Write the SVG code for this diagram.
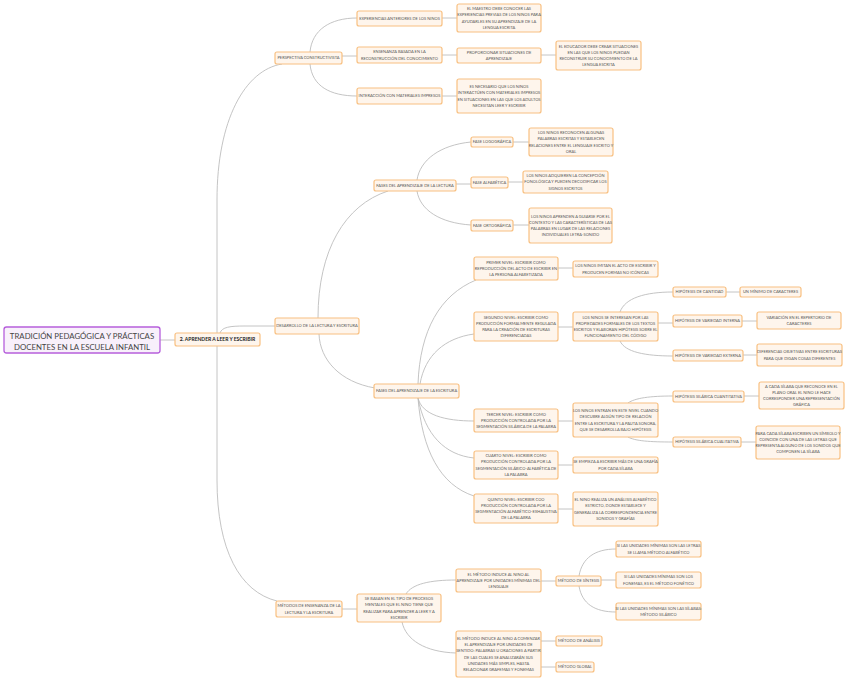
<svg xmlns="http://www.w3.org/2000/svg" width="848" height="681" viewBox="0 0 848 681">
<style>
.bx{fill:#fef5ec;stroke:#f8c081;stroke-width:1.2}
.rt{fill:#f8f0fb;stroke:#b65fdc;stroke-width:1.3}
.t{font-family:Lato,"Open Sans","Liberation Sans",sans-serif;font-size:4px;fill:#555;text-anchor:middle}
.rtt{font-family:Lato,"Open Sans","Liberation Sans",sans-serif;font-size:7.8px;fill:#444;text-anchor:middle}
.l1t{font-family:Lato,"Open Sans","Liberation Sans",sans-serif;font-size:5px;font-weight:bold;fill:#222;text-anchor:middle}
#connectors path{fill:none;stroke:#bdbdbd;stroke-width:0.9}
</style>
<rect width="848" height="681" fill="#ffffff"/>
<g id="connectors">
<path d="M160,340 H175"/>
<path d="M217,333 V200 C217,120 245,70 282,64"/>
<path d="M220,333 C222,327 230,326 245,326 L275,326"/>
<path d="M217,346 V480 C217,550 240,592 277,601"/>
<path d="M342,56 H357"/>
<path d="M310,52 C312,30 330,18 357,18"/>
<path d="M310,64 C312,86 330,96 357,96"/>
<path d="M442,18 H457"/>
<path d="M442,55 H457"/>
<path d="M541,55 H556"/>
<path d="M442,96 H457"/>
<path d="M318,318 C318,250 345,205 388,191"/>
<path d="M319,334 C320,360 340,382 375,388"/>
<path d="M456,184 H471"/>
<path d="M417,180 C420,160 440,145 471,142"/>
<path d="M417,191 C420,210 440,223 471,225"/>
<path d="M513,142 H529"/>
<path d="M508,182 H523"/>
<path d="M513,225 H529"/>
<path d="M418,384 C420,330 440,295 476,280"/>
<path d="M420,384 C425,355 445,338 474,334"/>
<path d="M418,398 C422,415 445,421 474,421"/>
<path d="M418,398 C425,435 445,455 474,458"/>
<path d="M418,398 C422,450 440,485 474,496"/>
<path d="M558,268 H573"/>
<path d="M558,327 H573"/>
<path d="M658,323 H673"/>
<path d="M620,312 C625,298 645,292 673,292"/>
<path d="M620,341 C625,352 645,356 673,356"/>
<path d="M726,292 H740"/>
<path d="M742,321 H757"/>
<path d="M743,355 H757"/>
<path d="M558,421 H573"/>
<path d="M628,403 C635,398 650,396 673,396"/>
<path d="M628,437 C635,441 650,442 673,442"/>
<path d="M744,396 H759"/>
<path d="M741,442 H756"/>
<path d="M558,465 H573"/>
<path d="M558,509 H573"/>
<path d="M342,609 H357"/>
<path d="M406,594 C412,584 430,580 456,580"/>
<path d="M402,622 C406,640 425,652 456,653"/>
<path d="M541,581 H556"/>
<path d="M579,576 C582,558 595,549 616,549"/>
<path d="M579,586 C582,604 595,612 616,612"/>
<path d="M601,580 H616"/>
<path d="M541,641 H556"/>
<path d="M541,667 H556"/>
</g>
<g id="root"><rect class="rt" x="4" y="327" width="156" height="26" rx="2.5"/><text class="rtt"><tspan x="82" y="338.5">TRADICIÓN PEDAGÓGICA Y PRÁCTICAS</tspan><tspan x="82" y="349.5">DOCENTES EN LA ESCUELA INFANTIL</tspan></text></g>
<g id="n_aprender"><rect class="bx" x="175" y="333" width="85" height="13" rx="2"/><text class="l1t" x="217.5" y="341.3">2. APRENDER A LEER Y ESCRIBIR</text></g>
<g id="n_persp"><rect class="bx" x="275" y="52" width="67" height="12" rx="2"/><text class="t" x="308.5" y="59.45">PERSPECTIVA CONSTRUCTIVISTA</text></g>
<g id="n_exp"><rect class="bx" x="357" y="11" width="85" height="15" rx="2"/><text class="t" x="399.5" y="19.95">EXPERIENCIAS ANTERIORES DE LOS NIÑOS</text></g>
<g id="n_exp_d"><rect class="bx" x="457" y="4" width="84" height="28" rx="2"/><text class="t"><tspan x="499" y="10.15">EL MAESTRO DEBE CONOCER LAS</tspan><tspan x="499" y="16.35">EXPERIENCIAS PREVIAS DE LOS NIÑOS PARA</tspan><tspan x="499" y="22.55">AYUDARLES EN SU APRENDIZAJE DE LA</tspan><tspan x="499" y="28.75">LENGUA ESCRITA</tspan></text></g>
<g id="n_ens"><rect class="bx" x="357" y="47" width="85" height="16" rx="2"/><text class="t"><tspan x="399.5" y="53.35">ENSEÑANZA BASADA EN LA</tspan><tspan x="399.5" y="59.55">RECONSTRUCCIÓN DEL CONOCIMIENTO</tspan></text></g>
<g id="n_prop"><rect class="bx" x="457" y="48" width="84" height="15" rx="2"/><text class="t"><tspan x="499" y="53.85">PROPORCIONAR SITUACIONES DE</tspan><tspan x="499" y="60.05">APRENDIZAJE</tspan></text></g>
<g id="n_educ"><rect class="bx" x="556" y="41" width="85" height="29" rx="2"/><text class="t"><tspan x="598.5" y="47.65">EL EDUCADOR DEBE CREAR SITUACIONES</tspan><tspan x="598.5" y="53.85">EN LAS QUE LOS NIÑOS PUEDAN</tspan><tspan x="598.5" y="60.05">RECONSTRUIR SU CONOCIMIENTO DE LA</tspan><tspan x="598.5" y="66.25">LENGUA ESCRITA</tspan></text></g>
<g id="n_inter"><rect class="bx" x="357" y="88" width="85" height="16" rx="2"/><text class="t" x="399.5" y="97.45">INTERACCIÓN CON MATERIALES IMPRESOS</text></g>
<g id="n_inter_d"><rect class="bx" x="457" y="79" width="84" height="34" rx="2"/><text class="t"><tspan x="499" y="88.15">ES NECESARIO QUE LOS NIÑOS</tspan><tspan x="499" y="94.35">INTERACTÚEN CON MATERIALES IMPRESOS</tspan><tspan x="499" y="100.55">EN SITUACIONES EN LAS QUE LOS ADULTOS</tspan><tspan x="499" y="106.75">NECESITAN LEER Y ESCRIBIR</tspan></text></g>
<g id="n_desa"><rect class="bx" x="275" y="318" width="84" height="16" rx="2"/><text class="t" x="317" y="327.45">DESARROLLO DE LA LECTURA Y ESCRITURA</text></g>
<g id="n_flect"><rect class="bx" x="374" y="180" width="82" height="11" rx="2"/><text class="t" x="415" y="186.95">FASES DEL APRENDIZAJE DE LA LECTURA</text></g>
<g id="n_logo"><rect class="bx" x="471" y="137" width="42" height="10" rx="2"/><text class="t" x="492" y="143.45">FASE LOGOGRÁFICA</text></g>
<g id="n_logo_d"><rect class="bx" x="529" y="128" width="84" height="28" rx="2"/><text class="t"><tspan x="571" y="134.15">LOS NIÑOS RECONOCEN ALGUNAS</tspan><tspan x="571" y="140.35">PALABRAS ESCRITAS Y ESTABLECEN</tspan><tspan x="571" y="146.55">RELACIONES ENTRE EL LENGUAJE ESCRITO Y</tspan><tspan x="571" y="152.75">ORAL</tspan></text></g>
<g id="n_alfa"><rect class="bx" x="471" y="177" width="37" height="11" rx="2"/><text class="t" x="489.5" y="183.95">FASE ALFABÉTICA</text></g>
<g id="n_alfa_d"><rect class="bx" x="523" y="171" width="85" height="22" rx="2"/><text class="t"><tspan x="565.5" y="177.25">LOS NIÑOS ADQUIEREN LA CONCEPCIÓN</tspan><tspan x="565.5" y="183.45">FONOLÓGICA Y PUEDEN DECODIFICAR LOS</tspan><tspan x="565.5" y="189.65">SIGNOS ESCRITOS</tspan></text></g>
<g id="n_orto"><rect class="bx" x="471" y="220" width="42" height="11" rx="2"/><text class="t" x="492" y="226.95">FASE ORTOGRÁFICA</text></g>
<g id="n_orto_d"><rect class="bx" x="529" y="208" width="83" height="35" rx="2"/><text class="t"><tspan x="570.5" y="217.65">LOS NIÑOS APRENDEN A GUIARSE POR EL</tspan><tspan x="570.5" y="223.85">CONTEXTO Y LAS CARACTERÍSTICAS DE LAS</tspan><tspan x="570.5" y="230.05">PALABRAS EN LUGAR DE LAS RELACIONES</tspan><tspan x="570.5" y="236.25">INDIVIDUALES LETRA-SONIDO</tspan></text></g>
<g id="n_fesc"><rect class="bx" x="374" y="384" width="85" height="14" rx="2"/><text class="t" x="416.5" y="392.45">FASES DEL APRENDIZAJE DE LA ESCRITURA</text></g>
<g id="n_n1"><rect class="bx" x="474" y="257" width="84" height="23" rx="2"/><text class="t"><tspan x="516" y="263.75">PRIMER NIVEL: ESCRIBIR COMO</tspan><tspan x="516" y="269.95">REPRODUCCIÓN DEL ACTO DE ESCRIBIR EN</tspan><tspan x="516" y="276.15">LA PERSONA ALFABETIZADA</tspan></text></g>
<g id="n_n1_d"><rect class="bx" x="573" y="261" width="85" height="16" rx="2"/><text class="t"><tspan x="615.5" y="267.35">LOS NIÑOS IMITAN EL ACTO DE ESCRIBIR Y</tspan><tspan x="615.5" y="273.55">PRODUCEN FORMAS NO ICÓNICAS</tspan></text></g>
<g id="n_n2"><rect class="bx" x="474" y="312" width="84" height="29" rx="2"/><text class="t"><tspan x="516" y="318.65">SEGUNDO NIVEL: ESCRIBIR COMO</tspan><tspan x="516" y="324.85">PRODUCCIÓN FORMALMENTE REGULADA</tspan><tspan x="516" y="331.05">PARA LA CREACIÓN DE ESCRITURAS</tspan><tspan x="516" y="337.25">DIFERENCIADAS</tspan></text></g>
<g id="n_n2_d"><rect class="bx" x="573" y="312" width="85" height="29" rx="2"/><text class="t"><tspan x="615.5" y="318.65">LOS NIÑOS SE INTERESAN POR LAS</tspan><tspan x="615.5" y="324.85">PROPIEDADES FORMALES DE LOS TEXTOS</tspan><tspan x="615.5" y="331.05">ESCRITOS Y ELABORAN HIPÓTESIS SOBRE EL</tspan><tspan x="615.5" y="337.25">FUNCIONAMIENTO DEL CÓDIGO</tspan></text></g>
<g id="n_hcant"><rect class="bx" x="673" y="287" width="53" height="10" rx="2"/><text class="t" x="699.5" y="293.45">HIPÓTESIS DE CANTIDAD</text></g>
<g id="n_hcant_d"><rect class="bx" x="740" y="287" width="61" height="10" rx="2"/><text class="t" x="770.5" y="293.45">UN MÍNIMO DE CARACTERES</text></g>
<g id="n_hint"><rect class="bx" x="673" y="315" width="69" height="12" rx="2"/><text class="t" x="707.5" y="322.45">HIPÓTESIS DE VARIEDAD INTERNA</text></g>
<g id="n_hint_d"><rect class="bx" x="757" y="312" width="84" height="17" rx="2"/><text class="t"><tspan x="799" y="318.85">VARIACIÓN EN EL REPERTORIO DE</tspan><tspan x="799" y="325.05">CARACTERES</tspan></text></g>
<g id="n_hext"><rect class="bx" x="673" y="350" width="70" height="11" rx="2"/><text class="t" x="708" y="356.95">HIPÓTESIS DE VARIEDAD EXTERNA</text></g>
<g id="n_hext_d"><rect class="bx" x="757" y="344" width="85" height="22" rx="2"/><text class="t"><tspan x="799.5" y="353.35">DIFERENCIAS OBJETIVAS ENTRE ESCRITURAS</tspan><tspan x="799.5" y="359.55">PARA QUE DIGAN COSAS DIFERENTES</tspan></text></g>
<g id="n_n3"><rect class="bx" x="474" y="409" width="84" height="23" rx="2"/><text class="t"><tspan x="516" y="415.75">TERCER NIVEL: ESCRIBIR COMO</tspan><tspan x="516" y="421.95">PRODUCCIÓN CONTROLADA POR LA</tspan><tspan x="516" y="428.15">SEGMENTACIÓN SILÁBICA DE LA PALABRA</tspan></text></g>
<g id="n_n3_d"><rect class="bx" x="573" y="403" width="85" height="34" rx="2"/><text class="t"><tspan x="615.5" y="412.15">LOS NIÑOS ENTRAN EN ESTE NIVEL CUANDO</tspan><tspan x="615.5" y="418.35">DESCUBRE ALGÚN TIPO DE RELACIÓN</tspan><tspan x="615.5" y="424.55">ENTRE LA ESCRITURA Y LA PAUTA SONORA,</tspan><tspan x="615.5" y="430.75">QUE SE DESARROLLA BAJO HIPÓTESIS</tspan></text></g>
<g id="n_hscuan"><rect class="bx" x="673" y="391" width="71" height="11" rx="2"/><text class="t" x="708.5" y="397.95">HIPÓTESIS SILÁBICA CUANTITATIVA</text></g>
<g id="n_hscuan_d"><rect class="bx" x="759" y="382" width="85" height="27" rx="2"/><text class="t"><tspan x="801.5" y="387.65">A CADA SÍLABA QUE RECONOCE EN EL</tspan><tspan x="801.5" y="393.85">PLANO ORAL EL NIÑO LE HACE</tspan><tspan x="801.5" y="400.05">CORRESPONDER UNA REPRESENTACIÓN</tspan><tspan x="801.5" y="406.25">GRÁFICA</tspan></text></g>
<g id="n_hscual"><rect class="bx" x="673" y="437" width="68" height="10" rx="2"/><text class="t" x="707" y="443.45">HIPÓTESIS SILÁBICA CUALITATIVA</text></g>
<g id="n_hscual_d"><rect class="bx" x="756" y="426" width="84" height="33" rx="2"/><text class="t"><tspan x="798" y="434.65">PARA CADA SÍLABA ESCRIBEN UN SÍMBOLO Y</tspan><tspan x="798" y="440.85">COINCIDE CON UNA DE LAS LETRAS QUE</tspan><tspan x="798" y="447.05">REPRESENTA ALGUNO DE LOS SONIDOS QUE</tspan><tspan x="798" y="453.25">COMPONEN LA SÍLABA</tspan></text></g>
<g id="n_n4"><rect class="bx" x="474" y="451" width="84" height="28" rx="2"/><text class="t"><tspan x="516" y="457.15">CUARTO NIVEL: ESCRIBIR COMO</tspan><tspan x="516" y="463.35">PRODUCCIÓN CONTROLADA POR LA</tspan><tspan x="516" y="469.55">SEGMENTACIÓN SILÁBICO-ALFABÉTICA DE</tspan><tspan x="516" y="475.75">LA PALABRA</tspan></text></g>
<g id="n_n4_d"><rect class="bx" x="573" y="457" width="85" height="16" rx="2"/><text class="t"><tspan x="615.5" y="463.35">SE EMPIEZA A ESCRIBIR MÁS DE UNA GRAFÍA</tspan><tspan x="615.5" y="469.55">POR CADA SÍLABA</tspan></text></g>
<g id="n_n5"><rect class="bx" x="474" y="494" width="84" height="29" rx="2"/><text class="t"><tspan x="516" y="500.65">QUINTO NIVEL: ESCRIBIR COO</tspan><tspan x="516" y="506.85">PRODUCCIÓN CONTROLADA POR LA</tspan><tspan x="516" y="513.05">SEGMENTACIÓN ALFABÉTICO-EXHAUSTIVA</tspan><tspan x="516" y="519.25">DE LA PALABRA</tspan></text></g>
<g id="n_n5_d"><rect class="bx" x="573" y="492" width="85" height="34" rx="2"/><text class="t"><tspan x="615.5" y="501.15">EL NIÑO REALIZA UN ANÁLISIS ALFABÉTICO</tspan><tspan x="615.5" y="507.35">ESTRICTO, DONDE ESTABLECE Y</tspan><tspan x="615.5" y="513.55">GENERALIZA LA CORRESPONDENCIA ENTRE</tspan><tspan x="615.5" y="519.75">SONIDOS Y GRAFÍAS</tspan></text></g>
<g id="n_met"><rect class="bx" x="276" y="601" width="66" height="16" rx="2"/><text class="t"><tspan x="309" y="607.35">MÉTODOS DE ENSEÑANZA DE LA</tspan><tspan x="309" y="613.55">LECTURA Y LA ESCRITURA</tspan></text></g>
<g id="n_basan"><rect class="bx" x="357" y="594" width="84" height="28" rx="2"/><text class="t"><tspan x="399" y="600.15">SE BASAN EN EL TIPO DE PROCESOS</tspan><tspan x="399" y="606.35">MENTALES QUE EL NIÑO TIENE QUE</tspan><tspan x="399" y="612.55">REALIZAR PARA APRENDER A LEER Y A</tspan><tspan x="399" y="618.75">ESCRIBIR</tspan></text></g>
<g id="n_sint_p"><rect class="bx" x="456" y="569" width="85" height="23" rx="2"/><text class="t"><tspan x="498.5" y="575.75">EL MÉTODO INDUCE AL NIÑO AL</tspan><tspan x="498.5" y="581.95">APRENDIZAJE POR UNIDADES MÍNIMAS DEL</tspan><tspan x="498.5" y="588.15">LENGUAJE</tspan></text></g>
<g id="n_anal_p"><rect class="bx" x="456" y="631" width="85" height="46" rx="2"/><text class="t"><tspan x="498.5" y="639.95">EL MÉTODO INDUCE AL NIÑO A COMENZAR</tspan><tspan x="498.5" y="646.15">EL APRENDIZAJE POR UNIDADES DE</tspan><tspan x="498.5" y="652.35">SENTIDO: PALABRAS U ORACIONES A PARTIR</tspan><tspan x="498.5" y="658.55">DE LAS CUALES SE ANALIZARÁN SUS</tspan><tspan x="498.5" y="664.75">UNIDADES MÁS SIMPLES, HASTA</tspan><tspan x="498.5" y="670.95">RELACIONAR GRAFEMAS Y FONEMAS</tspan></text></g>
<g id="n_sint"><rect class="bx" x="556" y="576" width="45" height="10" rx="2"/><text class="t" x="578.5" y="582.45">MÉTODO DE SÍNTESIS</text></g>
<g id="n_alfab"><rect class="bx" x="616" y="541" width="85" height="16" rx="2"/><text class="t"><tspan x="658.5" y="547.35">SI LAS UNIDADES MÍNIMAS SON LAS LETRAS</tspan><tspan x="658.5" y="553.55">SE LLAMA MÉTODO ALFABÉTICO</tspan></text></g>
<g id="n_fon"><rect class="bx" x="616" y="572" width="85" height="16" rx="2"/><text class="t"><tspan x="658.5" y="578.35">SI LAS UNIDADES MÍNIMAS SON LOS</tspan><tspan x="658.5" y="584.55">FONEMAS, ES EL MÉTODO FONÉTICO</tspan></text></g>
<g id="n_sil"><rect class="bx" x="616" y="603" width="85" height="17" rx="2"/><text class="t"><tspan x="658.5" y="609.85">SI LAS UNIDADES MÍNIMAS SON LAS SÍLABAS:</tspan><tspan x="658.5" y="616.05">MÉTODO SILÁBICO</tspan></text></g>
<g id="n_anal"><rect class="bx" x="556" y="636" width="46" height="10" rx="2"/><text class="t" x="579" y="642.45">MÉTODO DE ANÁLISIS</text></g>
<g id="n_glob"><rect class="bx" x="556" y="662" width="38" height="10" rx="2"/><text class="t" x="575" y="668.45">MÉTODO GLOBAL</text></g>
</svg>
